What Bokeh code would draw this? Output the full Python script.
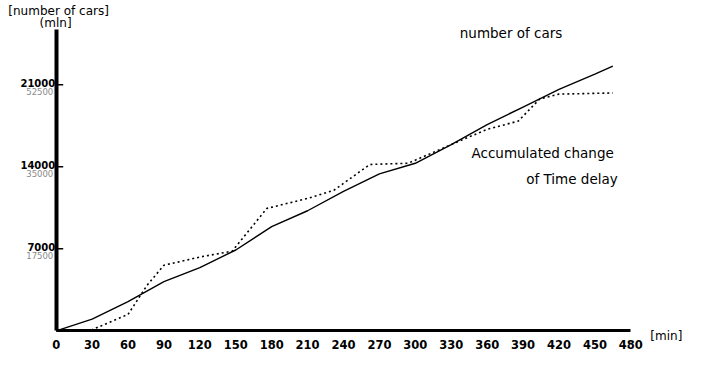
from bokeh.plotting import figure
from bokeh.models import Label, FixedTicker, Range1d
from bokeh.embed import file_html
from bokeh.resources import INLINE

# ---- data ----
time_cars = [0, 30, 60, 90, 120, 150, 180, 210, 240, 270, 300, 330, 360, 390, 420, 450, 465]
cars = [0, 1000, 2500, 4200, 5400, 6900, 8900, 10250, 11900, 13400, 14300, 15900, 17600, 19100, 20600, 21900, 22600]

time_delay = [0, 30, 60, 76, 90, 120, 147, 176, 210, 232, 262, 294, 330, 360, 386, 404, 420, 465]
delay = [0, 100, 1400, 3900, 5600, 6300, 6800, 10450, 11300, 12000, 14200, 14300, 15900, 17200, 17900, 19800, 20200, 20300]

x_ticks = [0, 30, 60, 90, 120, 150, 180, 210, 240, 270, 300, 330, 360, 390, 420, 450, 480]
y_ticks = [7000, 14000, 21000]
y_labels = ["7000", "14000", "21000"]
y_labels2 = ["17500", "35000", "52500"]
y_top = 25700

# ---- layout (figure pixels) ----
W, H = 686, 361
SX, SY = W / 702, H / 377          # reference -> figure scale
X0, X480 = 57 * SX, 645 * SX        # screen x of t=0 and t=480
Y0, Y21 = 345 * SY, 88 * SY         # screen y of 0 and 21000
ppx = (X480 - X0) / 480
ppy = (Y0 - Y21) / 21000
FL, FR, FT, FB = 0, W, 0, H         # frame box

x_start = (FL - X0) / ppx
x_end = (FR - X0) / ppx
y_end = (Y0 - FT) / ppy
y_start = (Y0 - FB) / ppy

p = figure(width=W, height=H, output_backend="svg", toolbar_location=None,
           x_range=Range1d(x_start, x_end), y_range=Range1d(y_start, y_end),
           min_border_left=0, min_border_right=0, min_border_top=0, min_border_bottom=0)
p.outline_line_color = None
p.grid.visible = False
p.background_fill_color = "white"


def dx(rx):
    return (rx * SX - X0) / ppx


def dy(ry):
    return (Y0 - ry * SY) / ppy


p.line(time_cars, cars, line_color="black", line_width=1.4)
p.line(time_delay, delay, line_color="black", line_width=1.6, line_dash="2 3")

xa = p.xaxis[0]
xa.fixed_location = 0
xa.bounds = (0, 480)
xa.ticker = FixedTicker(ticks=x_ticks)
xa.axis_line_width = 3
xa.axis_line_color = "black"
xa.major_tick_in = 0
xa.major_tick_out = 0
xa.minor_tick_line_color = None
xa.major_label_standoff = 9
xa.major_label_text_font = "DejaVu Sans"
xa.major_label_text_font_style = "bold"
xa.major_label_text_font_size = "11.5px"
xa.major_label_text_color = "black"

ya = p.yaxis[0]
ya.fixed_location = 0
ya.bounds = (0, y_top)
ya.ticker = FixedTicker(ticks=y_ticks)
ya.axis_line_width = 4
ya.axis_line_color = "black"
ya.major_tick_in = 0
ya.major_tick_out = 0
ya.minor_tick_line_color = None
ya.major_label_standoff = 0
ya.major_label_overrides = {t: "" for t in y_ticks}

# inward tick marks on the y axis
tick_len = 7 / ppx
p.segment(x0=[0] * len(y_ticks), y0=y_ticks, x1=[tick_len] * len(y_ticks), y1=y_ticks,
          line_color="black", line_width=1.5)

for t, l1, l2 in zip(y_ticks, y_labels, y_labels2):
    p.add_layout(Label(x=dx(56), y=t, text=l1, text_align="right", text_baseline="middle",
                       y_offset=2, text_font="DejaVu Sans", text_font_style="bold",
                       text_font_size="10px", text_color="black"))
    p.add_layout(Label(x=dx(54), y=t, text=l2, text_align="right", text_baseline="middle",
                       y_offset=-7, text_font="DejaVu Sans",
                       text_font_size="8.5px", text_color="#8a8a8a"))

small = dict(text_font="DejaVu Sans", text_font_size="12px", text_color="black",
             text_align="left", text_baseline="middle")
p.add_layout(Label(x=dx(8), y=dy(11), text="[number of cars]", **small))
p.add_layout(Label(x=dx(40), y=dy(24), text="(mln]", **small))
p.add_layout(Label(x=dx(665), y=dy(350), text="[min]", **small))

big = dict(text_font="DejaVu Sans", text_font_size="13.5px", text_color="black",
           text_align="left", text_baseline="middle")
p.add_layout(Label(x=dx(470), y=dy(34), text="number of cars", **big))
p.add_layout(Label(x=dx(482), y=dy(159), text="Accumulated change", **big))
p.add_layout(Label(x=dx(538), y=dy(186), text="of Time delay", **big))

open("out.html", "w").write(file_html(p, INLINE))
